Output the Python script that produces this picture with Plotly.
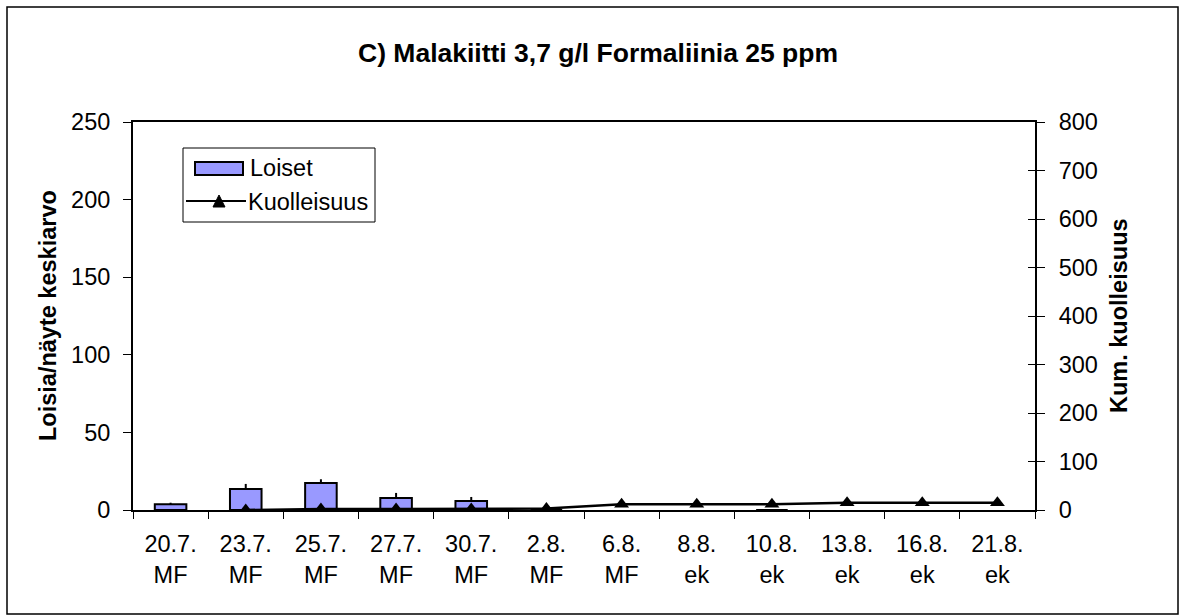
import plotly.graph_objects as go

# Sampling dates and treatment codes
dates = ["20.7.", "23.7.", "25.7.", "27.7.", "30.7.", "2.8.", "6.8.", "8.8.", "10.8.", "13.8.", "16.8.", "21.8."]
treatments = ["MF", "MF", "MF", "MF", "MF", "MF", "MF", "ek", "ek", "ek", "ek", "ek"]

# Parasites per sample (mean) and upper error
loiset = [3.7, 13.5, 17.4, 7.7, 5.8, 0, None, None, 0, None, None, None]
loiset_err = [1.0, 3.3, 2.4, 3.3, 2.6, 0, None, None, 0, None, None, None]

# Cumulative mortality
kuolleisuus = [None, 0, 2, 2, 2, 3, 12, 12, 12, 15, 15, 15]

series_names = ["Loiset", "Kuolleisuus"]

categories = [f"{d}<br>{t}" for d, t in zip(dates, treatments)]

W, H = 1180, 615
L, R, T, B = 133, 1035, 122, 510
FONT = "Liberation Sans, Arial, sans-serif"
FS = 23.5
BAR_FILL = "#9999FF"


def px_x(p):
    return (p - L) / (R - L)


def px_y(p):
    return (B - p) / (B - T)


fig = go.Figure()

fig.add_trace(go.Bar(
    x=categories, y=loiset, name=series_names[0],
    marker=dict(color=BAR_FILL, line=dict(color="black", width=2)),
    width=0.42,
    error_y=dict(type="data", array=loiset_err, arrayminus=[0] * len(loiset_err),
                 symmetric=False, color="black", thickness=2, width=0),
    yaxis="y", showlegend=False,
))

fig.add_trace(go.Scatter(
    x=categories, y=kuolleisuus, name=series_names[1],
    mode="lines+markers",
    line=dict(color="black", width=2.5),
    marker=dict(symbol="triangle-up", size=13, color="black"),
    yaxis="y2", showlegend=False,
))

axis_font = dict(family=FONT, size=FS, color="black")

fig.update_layout(
    width=W, height=H,
    margin=dict(l=L, r=W - R, t=T, b=H - B),
    paper_bgcolor="white", plot_bgcolor="white",
    font=axis_font,
    showlegend=False,
    xaxis=dict(
        type="category", range=[-0.5, 11.5],
        showline=True, linecolor="black", linewidth=2, mirror=True,
        ticks="outside", ticklen=7, tickcolor="black", tickwidth=1,
        tickson="boundaries", showgrid=False,
        tickfont=axis_font, ticklabelstandoff=12,
    ),
    yaxis=dict(
        range=[0, 250], tickvals=[0, 50, 100, 150, 200, 250],
        showline=True, linecolor="black", linewidth=2,
        ticks="outside", ticklen=8, tickcolor="black", tickwidth=1,
        showgrid=False, zeroline=False, tickfont=axis_font,
        ticklabelstandoff=8,
    ),
    yaxis2=dict(
        range=[0, 800], tickvals=list(range(0, 801, 100)),
        overlaying="y", side="right", anchor="x",
        showline=True, linecolor="black", linewidth=2,
        ticks="outside", ticklen=8, tickcolor="black", tickwidth=1,
        showgrid=False, zeroline=False, tickfont=axis_font,
        ticklabelstandoff=9,
    ),
    yaxis3=dict(
        range=[0, 800], tickvals=list(range(0, 801, 100)),
        overlaying="y", side="right", anchor="x",
        showline=False, ticks="inside", ticklen=7, tickcolor="black", tickwidth=1,
        showticklabels=False, showgrid=False, zeroline=False,
    ),
    barmode="group",
)

# Inner half of the crossing ticks on the right axis
fig.add_trace(go.Scatter(x=[categories[0]], y=[None], yaxis="y3", showlegend=False,
                         hoverinfo="skip"))

# Chart title
fig.add_annotation(
    text="<b>C) Malakiitti 3,7 g/l Formaliinia 25 ppm</b>",
    xref="paper", yref="paper", x=px_x(598), y=px_y(53),
    xanchor="center", yanchor="middle", showarrow=False,
    font=dict(family=FONT, size=26.5, color="black"),
)

# Axis titles
fig.add_annotation(
    text="<b>Loisia/näyte keskiarvo</b>",
    xref="paper", yref="paper", x=px_x(48), y=px_y(316),
    xanchor="center", yanchor="middle", textangle=-90, showarrow=False,
    font=dict(family=FONT, size=FS, color="black"),
)
fig.add_annotation(
    text="<b>Kum. kuolleisuus</b>",
    xref="paper", yref="paper", x=px_x(1119), y=px_y(316),
    xanchor="center", yanchor="middle", textangle=-90, showarrow=False,
    font=dict(family=FONT, size=FS, color="black"),
)

# Legend box with a wide bar swatch and a line-with-triangle sample
fig.add_shape(type="rect", xref="paper", yref="paper",
              x0=px_x(183), x1=px_x(375), y0=px_y(148), y1=px_y(222),
              line=dict(color="black", width=1), fillcolor="white")
fig.add_shape(type="rect", xref="paper", yref="paper",
              x0=px_x(195), x1=px_x(243), y0=px_y(162), y1=px_y(175),
              line=dict(color="black", width=2), fillcolor=BAR_FILL)
fig.add_shape(type="line", xref="paper", yref="paper",
              x0=px_x(186), x1=px_x(246), y0=px_y(201), y1=px_y(201),
              line=dict(color="black", width=2))
tx, ty = px_x(219), px_y(201)
dx, dy = 6 / (R - L), 6 / (B - T)
fig.add_shape(type="path", xref="paper", yref="paper",
              path=f"M {tx - dx},{ty - dy} L {tx + dx},{ty - dy} L {tx},{ty + dy} Z",
              line=dict(color="black", width=1), fillcolor="black")
fig.add_annotation(text=series_names[0], xref="paper", yref="paper",
                   x=px_x(248), y=px_y(168), xanchor="left", yanchor="middle",
                   showarrow=False, font=dict(family=FONT, size=FS, color="black"))
fig.add_annotation(text=series_names[1], xref="paper", yref="paper",
                   x=px_x(246), y=px_y(202), xanchor="left", yanchor="middle",
                   showarrow=False, font=dict(family=FONT, size=FS, color="black"))

# Outer chart frame
fig.add_shape(
    type="rect", xref="paper", yref="paper",
    x0=px_x(7), x1=px_x(1178), y0=px_y(7), y1=px_y(614),
    line=dict(color="black", width=1.5), fillcolor="rgba(0,0,0,0)", layer="below",
)

fig.write_html("out.html")
